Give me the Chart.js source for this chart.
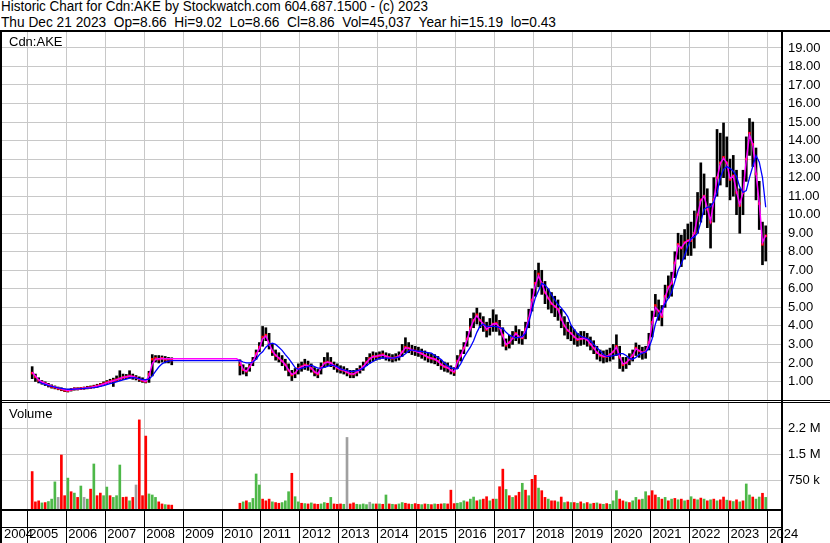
<!DOCTYPE html>
<html>
<head>
<meta charset="utf-8">
<script src="https://cdn.jsdelivr.net/npm/chart.js@4.4.0/dist/chart.umd.min.js"></script>
<style>
  body { margin: 0; background: #fff; width: 830px; height: 543px; overflow: hidden; position: relative; }
  .txt { position: absolute; font-family: Arial, 'Liberation Sans', sans-serif; font-size: 13px; color: #000; white-space: pre; line-height: 14px; }
  .title { font-size: 14px; line-height: 16px; transform-origin: 0 0; }
  .ln { position: absolute; background: #000; z-index: 2; }
  #grid, #boxes { position: absolute; left: 0; top: 0; width: 830px; height: 543px; }
  #boxes { z-index: 2; }
  canvas { position: absolute; left: 0; }
</style>
</head>
<body>
<div id="grid"></div>
<canvas id="price" width="830" height="368" style="top:32px"></canvas>
<canvas id="volume" width="830" height="140" style="top:403px"></canvas>
<div id="boxes"></div>

<div class="txt title" data-w="427" style="left:1px;top:-2px">Historic Chart for Cdn:AKE by Stockwatch.com 604.687.1500 - (c) 2023</div>
<div class="txt title" data-w="555" style="left:1px;top:14px">Thu Dec 21 2023  Op=8.66  Hi=9.02  Lo=8.66  Cl=8.86  Vol=45,037  Year hi=15.19  lo=0.43</div>
<div class="txt" style="left:9px;top:35px">Cdn:AKE</div>
<div class="txt" style="left:9px;top:407px">Volume</div>

<div class="ln" style="left:0;top:30px;width:830px;height:2px"></div>
<div class="ln" style="left:0;top:30px;width:2px;height:513px"></div>
<div class="ln" style="left:781px;top:30px;width:2px;height:513px"></div>
<div class="ln" style="left:0;top:400px;width:830px;height:1px"></div>
<div class="ln" style="left:0;top:402px;width:830px;height:1px"></div>

<script>
// monthly data, Jan 2005 .. Dec 2023 (one row per year)
const firstYear = 2005;

const highs = [
  null, 1.8, 1.4, 1.2, 1.05, 0.98, 0.9, 0.82, 0.76, 0.7, 0.66, 0.6,
  0.58, 0.62, 0.66, 0.66, 0.68, 0.7, 0.74, 0.76, 0.8, 0.85, 0.9, 0.98,
  1.05, 1.12, 1.18, 1.3, 1.58, 1.4, 1.38, 1.58, 1.4, 1.32, 1.25, 1.2,
  1.1, 1.55, 2.45, 2.4, 2.4, 2.38, 2.35, 2.3, 2.28, null, null, null,
  null, null, null, null, null, null, null, null, null, null, null, null,
  null, null, null, null, null, 2.17, 1.9, 1.75, 1.95, 2.3, 2.7, 3.1,
  3.97, 3.9, 3.6, 3.0, 2.7, 2.55, 2.4, 2.2, 1.95, 1.6, 1.7, 1.95,
  2.05, 2.2, 2.1, 1.95, 1.75, 1.65, 2.0, 2.3, 2.55, 2.3, 2.05, 1.95,
  1.85, 1.8, 1.7, 1.6, 1.6, 1.7, 1.85, 2.05, 2.3, 2.5, 2.6, 2.55,
  2.6, 2.65, 2.55, 2.5, 2.45, 2.5, 2.6, 3.0, 3.36, 3.1, 2.95, 2.9,
  2.85, 2.75, 2.65, 2.55, 2.5, 2.45, 2.35, 2.15, 2.05, 2.0, 1.85, 1.75,
  2.4, 2.7, 3.1, 3.7, 4.4, 4.7, 4.96, 4.7, 4.5, 4.2, 4.4, 4.87,
  4.6, 4.3, 3.9, 3.3, 3.5, 3.7, 4.0, 3.8, 3.7, 4.2, 4.9, 6.0,
  7.0, 7.39, 7.0, 6.4, 6.0, 5.8, 5.6, 5.4, 4.9, 4.5, 4.2, 4.0,
  3.8, 3.6, 3.7, 3.7, 3.6, 3.4, 3.2, 2.9, 2.7, 2.65, 2.7, 2.8,
  3.0, 3.52, 2.9, 2.3, 2.3, 2.5, 2.7, 3.08, 2.95, 2.85, 2.9, 3.6,
  4.8, 5.7, 5.4, 5.1, 6.2, 6.7, 6.9, 8.0, 9.0, 8.9, 9.2, 9.5,
  9.6, 10.2, 11.2, 12.8, 12.2, 11.4, 10.6, 12.0, 14.6, 14.4, 14.95, 14.2,
  13.0, 13.2, 12.4, 11.4, 12.4, 14.2, 15.19, 15.0, 13.6, 11.8, 9.6, 9.4
];

const lows = [
  null, 1.15, 1.0, 0.92, 0.85, 0.78, 0.7, 0.64, 0.6, 0.55, 0.5, 0.45,
  0.43, 0.48, 0.53, 0.54, 0.56, 0.58, 0.6, 0.62, 0.65, 0.68, 0.74, 0.8,
  0.85, 0.9, 0.73, 1.0, 1.05, 1.1, 1.15, 1.18, 1.12, 1.08, 1.0, 0.95,
  0.92, 0.95, 1.3, 2.05, 2.0, 2.05, 2.0, 2.0, 1.9, null, null, null,
  null, null, null, null, null, null, null, null, null, null, null, null,
  null, null, null, null, null, 1.35, 1.4, 1.3, 1.55, 1.85, 2.2, 2.6,
  2.9, 3.2, 2.75, 2.4, 2.15, 2.05, 1.85, 1.6, 1.3, 1.05, 1.2, 1.4,
  1.55, 1.65, 1.6, 1.5, 1.3, 1.2, 1.4, 1.75, 1.85, 1.8, 1.65, 1.5,
  1.45, 1.4, 1.3, 1.2, 1.2, 1.3, 1.45, 1.6, 1.85, 2.0, 2.1, 2.15,
  2.2, 2.25, 2.15, 2.1, 2.05, 2.1, 2.15, 2.35, 2.55, 2.55, 2.45, 2.4,
  2.35, 2.25, 2.15, 2.05, 2.0, 1.95, 1.85, 1.65, 1.55, 1.5, 1.4, 1.32,
  1.7, 2.1, 2.5, 2.9, 3.4, 3.9, 4.1, 3.9, 3.7, 3.4, 3.5, 3.7,
  3.7, 3.5, 2.9, 2.7, 2.8, 3.0, 3.2, 3.05, 3.0, 3.3, 3.9, 4.8,
  5.6, 6.1, 5.7, 5.2, 4.9, 4.7, 4.5, 4.3, 3.9, 3.5, 3.3, 3.2,
  3.0, 2.9, 2.95, 3.0, 2.9, 2.7, 2.5, 2.2, 2.1, 2.0, 2.05, 2.1,
  2.2, 2.4, 1.7, 1.55, 1.7, 1.9, 2.1, 2.4, 2.3, 2.2, 2.25, 2.7,
  3.4, 4.5, 4.3, 4.0, 5.0, 5.5, 5.6, 6.6, 7.6, 7.2, 7.6, 7.8,
  7.8, 8.2, 9.0, 9.6, 10.0, 9.3, 8.2, 9.6, 11.0, 11.6, 12.0, 11.5,
  10.8, 11.0, 10.0, 9.0, 10.0, 11.8, 13.2, 12.6, 10.8, 9.2, 7.3, 7.5
];

const closes = [
  null, 1.45, 1.25, 1.05, 0.95, 0.88, 0.8, 0.72, 0.68, 0.62, 0.58, 0.52,
  0.5, 0.56, 0.6, 0.6, 0.62, 0.64, 0.66, 0.68, 0.72, 0.76, 0.82, 0.88,
  0.95, 1.0, 1.05, 1.1, 1.15, 1.22, 1.25, 1.3, 1.25, 1.2, 1.12, 1.05,
  1.0, 1.4, 2.2, 2.25, 2.2, 2.25, 2.2, 2.2, 2.15, null, null, null,
  null, null, null, null, null, null, null, null, null, null, null, null,
  null, null, null, null, null, 1.9, 1.63, 1.55, 1.8, 2.1, 2.5, 2.85,
  3.4, 3.5, 3.0, 2.6, 2.4, 2.25, 2.1, 1.9, 1.6, 1.35, 1.45, 1.7,
  1.8, 1.9, 1.85, 1.7, 1.5, 1.4, 1.75, 2.0, 2.05, 2.0, 1.85, 1.72,
  1.65, 1.6, 1.5, 1.4, 1.4, 1.5, 1.65, 1.8, 2.05, 2.25, 2.35, 2.35,
  2.4, 2.45, 2.35, 2.3, 2.25, 2.3, 2.35, 2.6, 2.85, 2.8, 2.7, 2.65,
  2.6, 2.5, 2.4, 2.3, 2.25, 2.2, 2.1, 1.9, 1.8, 1.75, 1.6, 1.5,
  2.1, 2.4, 2.8, 3.3, 3.9, 4.3, 4.6, 4.3, 4.1, 3.8, 3.95, 4.1,
  4.15, 3.9, 3.5, 2.95, 3.1, 3.35, 3.6, 3.4, 3.35, 3.8, 4.4, 5.4,
  6.3, 6.8, 6.3, 5.8, 5.5, 5.2, 5.05, 4.9, 4.35, 4.0, 3.75, 3.6,
  3.4, 3.25, 3.3, 3.35, 3.25, 3.0, 2.8, 2.55, 2.4, 2.35, 2.35, 2.45,
  2.6, 2.9, 2.3, 1.9, 2.0, 2.2, 2.4, 2.8, 2.65, 2.55, 2.6, 3.1,
  4.2, 5.1, 4.8, 4.5, 5.6, 6.1, 6.3, 7.4, 8.4, 8.2, 8.5, 8.6,
  8.6, 9.0, 10.0, 10.8, 11.0, 10.3, 9.6, 10.8, 12.0, 12.8, 13.1, 12.8,
  11.9, 12.1, 11.2, 10.5, 11.2, 13.0, 14.4, 13.8, 12.2, 10.6, 8.4, 8.86
];

// short moving average (magenta), flat while the stock did not trade
const maFast = [
  null, 1.5, 1.3, 1.08, 0.97, 0.9, 0.82, 0.75, 0.7, 0.64, 0.6, 0.55,
  0.52, 0.55, 0.59, 0.6, 0.62, 0.64, 0.66, 0.68, 0.71, 0.75, 0.8, 0.86,
  0.93, 0.99, 1.04, 1.1, 1.16, 1.22, 1.26, 1.3, 1.27, 1.21, 1.13, 1.06,
  1.0, 1.3, 1.95, 2.2, 2.22, 2.24, 2.22, 2.22, 2.22, 2.22, 2.22, 2.22,
  2.22, 2.22, 2.22, 2.22, 2.22, 2.22, 2.22, 2.22, 2.22, 2.22, 2.22, 2.22,
  2.22, 2.22, 2.22, 2.22, 2.22, 2.1, 1.65, 1.55, 1.78, 2.08, 2.45, 2.8,
  3.3, 3.45, 3.05, 2.65, 2.42, 2.27, 2.1, 1.9, 1.62, 1.38, 1.45, 1.68,
  1.8, 1.88, 1.85, 1.72, 1.52, 1.42, 1.72, 1.98, 2.05, 2.0, 1.86, 1.73,
  1.65, 1.6, 1.5, 1.42, 1.4, 1.5, 1.64, 1.8, 2.02, 2.22, 2.33, 2.36,
  2.4, 2.43, 2.36, 2.3, 2.26, 2.3, 2.36, 2.58, 2.82, 2.8, 2.7, 2.64,
  2.58, 2.5, 2.4, 2.31, 2.25, 2.2, 2.1, 1.92, 1.8, 1.74, 1.6, 1.52,
  2.05, 2.38, 2.78, 3.25, 3.85, 4.3, 4.55, 4.3, 4.1, 3.82, 3.95, 4.1,
  4.12, 3.9, 3.45, 3.0, 3.1, 3.33, 3.58, 3.42, 3.36, 3.78, 4.38, 5.3,
  6.2, 6.7, 6.3, 5.82, 5.5, 5.22, 5.05, 4.9, 4.38, 4.0, 3.76, 3.6,
  3.42, 3.27, 3.3, 3.33, 3.25, 3.02, 2.8, 2.57, 2.42, 2.36, 2.35, 2.45,
  2.6, 2.85, 2.35, 1.95, 2.0, 2.2, 2.4, 2.76, 2.66, 2.56, 2.6, 3.05,
  4.1, 5.0, 4.8, 4.55, 5.55, 6.05, 6.3, 7.3, 8.35, 8.2, 8.48, 8.6,
  8.65, 9.0, 9.95, 10.75, 11.0, 10.35, 9.65, 10.75, 11.95, 12.75, 13.05, 12.8,
  11.95, 12.08, 11.25, 10.55, 11.2, 12.95, 14.3, 13.8, 12.25, 10.65, 8.5, 8.9
];

// long moving average (blue)
const maSlow = [
  null, null, null, 1.0, 0.9, 0.84, 0.78, 0.74, 0.7, 0.66, 0.63, 0.6,
  0.58, 0.58, 0.59, 0.6, 0.61, 0.62, 0.64, 0.65, 0.67, 0.7, 0.74, 0.78,
  0.83, 0.88, 0.93, 0.98, 1.03, 1.08, 1.13, 1.18, 1.2, 1.19, 1.15, 1.1,
  1.1, 1.12, 1.3, 1.55, 1.78, 1.95, 2.05, 2.1, 2.12, 2.12, 2.12, 2.12,
  2.12, 2.12, 2.12, 2.12, 2.12, 2.12, 2.12, 2.12, 2.12, 2.12, 2.12, 2.12,
  2.12, 2.12, 2.12, 2.12, 2.12, 2.14, 2.05, 2.0, 2.0, 2.05, 2.2, 2.45,
  2.6, 2.85, 3.0, 3.07, 3.0, 2.85, 2.68, 2.45, 2.25, 2.0, 1.75, 1.66,
  1.72, 1.76, 1.81, 1.88, 1.8, 1.72, 1.72, 1.76, 1.82, 1.88, 1.86, 1.8,
  1.68, 1.62, 1.58, 1.55, 1.54, 1.58, 1.62, 1.72, 1.85, 1.98, 2.08, 2.18,
  2.24, 2.27, 2.26, 2.26, 2.26, 2.28, 2.32, 2.36, 2.5, 2.65, 2.7, 2.66,
  2.63, 2.62, 2.58, 2.55, 2.53, 2.4, 2.3, 2.18, 2.0, 1.85, 1.75, 1.68,
  1.68, 1.95, 2.3, 2.58, 2.85, 3.2, 3.65, 4.0, 4.1, 3.97, 3.97, 3.97,
  3.96, 3.9, 3.85, 3.65, 3.5, 3.42, 3.36, 3.38, 3.43, 3.6, 4.2, 4.85,
  5.5, 5.9, 6.3, 6.2, 6.0, 5.68, 5.4, 5.15, 4.97, 4.75, 4.5, 4.05,
  3.8, 3.58, 3.45, 3.38, 3.33, 3.2, 3.0, 2.82, 2.65, 2.45, 2.35, 2.35,
  2.4, 2.44, 2.5, 2.5, 2.4, 2.25, 2.2, 2.3, 2.45, 2.53, 2.58, 2.8,
  3.3, 4.1, 4.6, 4.9, 5.2, 5.5, 5.8, 6.4, 7.0, 7.35, 7.8, 8.3,
  8.7, 8.8, 9.0, 9.6, 10.3, 10.4, 10.43, 10.7, 11.2, 12.0, 12.45, 12.6,
  12.5, 12.35, 12.07, 11.5, 11.2, 11.3, 12.0, 12.6, 13.2, 12.85, 12.0, 10.4
];

// volume in thousands of shares
const volumes = [
  null, 1000, 120, 150, 90, 100, 130, 200, 700, 250, 1480, 300,
  810, 415, 375, 250, 580, 250, 200, 490, 1220, 300, 375, 300,
  550, 300, 250, 300, 1190, 250, 260, 150, 250, 610, 2500, 300,
  2030, 350, 320, 250, 120, 60, 40, 30, 25, null, null, null,
  null, null, null, null, null, null, null, null, null, null, null, null,
  null, null, null, null, null, 80, 120, 150, 100, 220, 930, 610,
  200, 150, 200, 120, 100, 80, 100, 150, 415, 950, 270, 120,
  80, 70, 60, 90, 60, 50, 60, 100, 80, 250, 60, 50,
  60, 50, 1990, 60, 90, 50, 40, 60, 40, 110, 60, 60,
  60, 50, 320, 60, 50, 40, 60, 100, 80, 60, 50, 70,
  50, 40, 60, 50, 40, 60, 50, 60, 70, 60, 460, 70,
  80, 100, 150, 120, 200, 260, 150, 180, 200, 270, 150, 200,
  200, 560, 1070, 480, 300, 250, 300, 400, 660, 460, 300, 775,
  890, 520, 445, 250, 200, 150, 150, 120, 260, 100, 120, 100,
  100, 80, 120, 70, 100, 60, 80, 90, 60, 50, 70, 50,
  150, 445, 200, 150, 120, 100, 150, 250, 180, 200, 415, 300,
  445, 320, 250, 200, 250, 150, 200, 220, 180, 200, 150, 170,
  270, 200, 180, 230, 200, 150, 180, 200, 150, 180, 260, 170,
  150, 130, 180, 120, 150, 640, 320, 260, 200, 260, 370, 250
];

// g = up, r = down, n = unchanged, - = no trading
const volDir = [
  '-rrrgrgggnrr', 'grgrgngrgrrg', 'grgggrrgrnrr', 'rgggrrgrr---',
  '------------', '-----rgrgggg', 'rrrgrrgggrgg', 'rgrgrrggrgrr',
  'rgnrrggggngr', 'grgrgrggrrgr', 'rgrgrgrrgrrr', 'gggrggrgrrgr',
  'grrgrgrrgrgr', 'rgrrgrrgrgrg', 'rgrgrgrgrgrg', 'ggrrgrggrggr',
  'rrgrgrgrgrgr', 'grgrgrgrgrrg', 'rgrgrggrggrg'
].join('');

const years = [2004, 2005, 2006, 2007, 2008, 2009, 2010, 2011, 2012, 2013, 2014,
  2015, 2016, 2017, 2018, 2019, 2020, 2021, 2022, 2023, 2024];
const priceTicks = [1, 2, 3, 4, 5, 6, 7, 8, 9, 10, 11, 12, 13, 14, 15, 16, 17, 18, 19];
const volTicks = [750000, 1500000, 2250000];
const volTickLabels = ['750 k', '1.5 M', '2.2 M'];

const xMin = 2004.3505, xMax = 2024.3761;
const priceMax = 19.86, volMin = -87000, volMax = 2990000;
const dirColor = { g: '#4db848', r: '#ff0000', n: '#a0a0a0' };

const monthX = i => firstYear + (i + 0.5) / 12;
const priceBars = [], closeMarks = [], fastLine = [], slowLine = [], volBars = [], volColors = [];
for (let i = 0; i < closes.length; i++) {
    const x = monthX(i);
    if (highs[i] != null) priceBars.push({ x: x, y: [lows[i], highs[i]] });
    if (closes[i] != null) closeMarks.push({ x: x, y: closes[i] });
    if (maFast[i] != null) fastLine.push({ x: x, y: maFast[i] });
    if (maSlow[i] != null) slowLine.push({ x: x, y: maSlow[i] });
    if (volumes[i] != null) {
        volBars.push({ x: x, y: volumes[i] * 1000 });
        volColors.push(dirColor[volDir[i]] || '#a0a0a0');
    }
}

const gridGray = '#c8c8c8';
const axisFont = { family: 'Arial, "Liberation Sans", sans-serif', size: 13 };

// panel geometry (page pixels) shared by both charts and the grid
const plotLeft = 2, plotRight = 782;
const priceTop = 32, priceBottom = 400;
const volTop = 403, volBottom = 509, pageBottom = 543;

function addLine(parent, left, top, width, height, color) {
    const d = document.createElement('div');
    d.style.cssText = 'position:absolute;left:' + left + 'px;top:' + top + 'px;width:' + width +
        'px;height:' + height + 'px;background:' + color;
    parent.appendChild(d);
}

// light grid behind the canvases, black year boxes in front
const gridEl = document.getElementById('grid');
const boxEl = document.getElementById('boxes');
const xPix = v => plotLeft + (v - xMin) / (xMax - xMin) * (plotRight - plotLeft);
years.slice(1).forEach(v => {
    const px = Math.round(xPix(v) - 0.5);
    addLine(gridEl, px, priceTop, 1, priceBottom - priceTop, gridGray);
    addLine(gridEl, px, volTop, 1, volBottom - volTop, gridGray);
    addLine(boxEl, px, volBottom, 1, pageBottom - volBottom, '#000');
});
priceTicks.forEach(v => {
    const py = Math.round(priceTop + (1 - v / priceMax) * (priceBottom - priceTop) - 0.5);
    addLine(gridEl, plotLeft, py, plotRight - plotLeft, 1, gridGray);
});
volTicks.forEach(v => {
    const py = Math.round(volTop + (volMax - v) / (volMax - volMin) * (volBottom - volTop) - 0.5);
    addLine(gridEl, plotLeft, py, plotRight - plotLeft, 1, gridGray);
});
addLine(boxEl, 0, volBottom, plotRight, 2, '#000');
addLine(boxEl, 0, volBottom + 18, plotRight, 1, '#000');

// keep the plot areas exactly where the panels are
const noPad = s => { s.paddingTop = 0; s.paddingBottom = 0; s.paddingLeft = 0; s.paddingRight = 0; };

new Chart(document.getElementById('price'), {
    type: 'bar',
    data: {
        datasets: [
            { type: 'line', data: slowLine, borderColor: '#0000ff', borderWidth: 1.3, pointRadius: 0, order: 1 },
            { type: 'line', data: fastLine, borderColor: '#ff00ff', borderWidth: 1.5, pointRadius: 0, order: 2 },
            { type: 'line', data: closeMarks, showLine: false, pointStyle: 'rect', pointRadius: 1.8,
              pointBackgroundColor: '#ff0000', pointBorderWidth: 0, order: 3 },
            { type: 'bar', data: priceBars, backgroundColor: '#000', barThickness: 2, order: 4 }
        ]
    },
    options: {
        responsive: false,
        animation: false,
        events: [],
        layout: { autoPadding: false, padding: { left: plotLeft, right: 0, top: 0, bottom: 0 } },
        plugins: { legend: { display: false }, tooltip: { enabled: false } },
        scales: {
            x: {
                type: 'linear', min: xMin, max: xMax, offset: false,
                grid: { display: false, offset: false, drawTicks: false },
                border: { display: false },
                ticks: { display: false },
                afterFit: s => { s.height = 0; noPad(s); }
            },
            y: {
                position: 'right', min: 0, max: priceMax,
                grid: { display: false, drawTicks: false },
                border: { display: false },
                afterBuildTicks: s => { s.ticks = priceTicks.map(v => ({ value: v })); },
                ticks: { padding: 6, color: '#000', font: axisFont, callback: v => v.toFixed(2) },
                afterFit: s => { s.width = 48; noPad(s); }
            }
        }
    }
});

new Chart(document.getElementById('volume'), {
    type: 'bar',
    data: {
        datasets: [
            { data: volBars, backgroundColor: volColors, barThickness: 2, base: volMin }
        ]
    },
    options: {
        responsive: false,
        animation: false,
        events: [],
        layout: { autoPadding: false, padding: { left: plotLeft, right: 0, top: 0, bottom: 0 } },
        plugins: { legend: { display: false }, tooltip: { enabled: false } },
        scales: {
            x: {
                type: 'linear', min: xMin, max: xMax, offset: false,
                grid: { display: false, drawTicks: true, tickLength: 33, offset: false },
                border: { display: false },
                afterBuildTicks: s => { s.ticks = [{ value: xMin }].concat(years.slice(1).map(v => ({ value: v }))); },
                ticks: {
                    align: 'start', labelOffset: 2, padding: -15, autoSkip: false, maxRotation: 0,
                    color: '#000', font: axisFont,
                    callback: (v, i) => String(years[i])
                },
                afterFit: s => { s.height = 34; noPad(s); }
            },
            y: {
                position: 'right', min: volMin, max: volMax,
                grid: { display: false, drawTicks: false },
                border: { display: false },
                afterBuildTicks: s => { s.ticks = volTicks.map(v => ({ value: v })); },
                ticks: { padding: 6, color: '#000', font: axisFont, callback: (v, i) => volTickLabels[i] },
                afterFit: s => { s.width = 48; noPad(s); }
            }
        }
    }
});

// stretch the two header lines to the widths they have in the original
document.querySelectorAll('.title').forEach(el => {
    const w = el.getBoundingClientRect().width;
    if (w > 0) el.style.transform = 'scaleX(' + (parseFloat(el.dataset.w) / w) + ')';
});
</script>
</body>
</html>
